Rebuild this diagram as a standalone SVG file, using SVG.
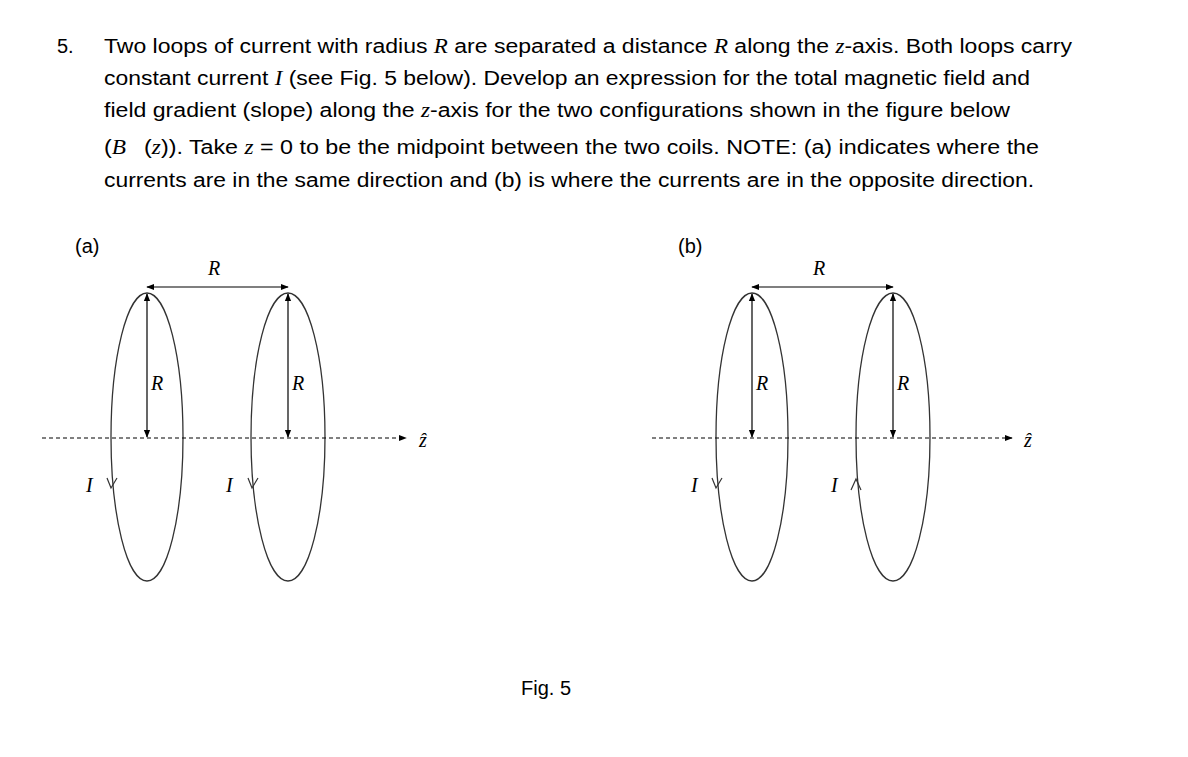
<svg xmlns="http://www.w3.org/2000/svg" width="1188" height="757" viewBox="0 0 1188 757">
<defs>
<marker id="ah" viewBox="0 0 10 10" refX="9" refY="5" markerWidth="8" markerHeight="8" markerUnits="userSpaceOnUse" orient="auto-start-reverse"><path d="M0,1 L10,5 L0,9 z" fill="#000"/></marker>
</defs>
<style>
.t{font-family:"Liberation Sans",Arial,sans-serif;font-size:20px;fill:#000}
.m{font-family:"Liberation Serif","Times New Roman",serif;font-style:italic}
.lab{font-family:"Liberation Serif","Times New Roman",serif;font-style:italic;font-size:20px;fill:#000}
.loop{fill:none;stroke:#333;stroke-width:1.3}
.ax{stroke:#000;stroke-width:1;stroke-dasharray:4,3;fill:none}
.ar{stroke:#000;stroke-width:1.2;fill:none}
.ch{stroke:#333;stroke-width:1.2;fill:none}
</style>
<rect width="1188" height="757" fill="#fff"/>
<g id="text">
<text class="t" x="57" y="53">5.</text>
<text class="t" x="104" y="53" textLength="968" lengthAdjust="spacingAndGlyphs">Two loops of current with radius <tspan class="m">R</tspan> are separated a distance <tspan class="m">R</tspan> along the <tspan class="m">z</tspan>-axis.  Both loops carry</text>
<text class="t" x="104" y="85" textLength="926" lengthAdjust="spacingAndGlyphs">constant current <tspan class="m">I</tspan> (see Fig. 5 below).  Develop an expression for the total magnetic field and</text>
<text class="t" x="104" y="117" textLength="906" lengthAdjust="spacingAndGlyphs">field gradient (slope) along the <tspan class="m">z</tspan>-axis for the two configurations shown in the figure below</text>
<text class="t" x="104" y="154" textLength="935" lengthAdjust="spacingAndGlyphs">(<tspan class="m">B⃗</tspan>(<tspan class="m">z</tspan>)).  Take <tspan class="m">z</tspan> = 0 to be the midpoint between the two coils.  NOTE: (a) indicates where the</text>
<text class="t" x="104" y="187" textLength="930" lengthAdjust="spacingAndGlyphs">currents are in the same direction and (b) is where the currents are in the opposite direction.</text>
<text class="t" x="521" y="695">Fig. 5</text>
</g>
<g id="panel-a">
<text class="t" x="75" y="253">(a)</text>
<ellipse class="loop" cx="147" cy="437" rx="36" ry="144"/>
<ellipse class="loop" cx="288" cy="437" rx="37" ry="144"/>
<text class="lab" x="208" y="275">R</text>
<text class="lab" x="151" y="390">R</text>
<text class="lab" x="292" y="390">R</text>
<text class="lab" x="86" y="492">I</text>
<text class="lab" x="226" y="492">I</text>
<text class="lab" x="419" y="447">ẑ</text>
<path class="ch" d="M107,478 L111,488 L117,478"/>
<path class="ch" d="M248,478 L252,488 L258,478"/>
</g>
<g id="panel-b">
<text class="t" x="678" y="253">(b)</text>
<ellipse class="loop" cx="752" cy="437" rx="36" ry="144"/>
<ellipse class="loop" cx="893" cy="437" rx="37" ry="144"/>
<text class="lab" x="813" y="275">R</text>
<text class="lab" x="756" y="390">R</text>
<text class="lab" x="897" y="390">R</text>
<text class="lab" x="691" y="492">I</text>
<text class="lab" x="831" y="492">I</text>
<text class="lab" x="1024" y="447">ẑ</text>
<path class="ch" d="M712,478 L716,488 L722,478"/>
<path class="ch" d="M851,490 L856,479 L861,490"/>
</g>
<g id="connectors">
<line class="ax" x1="42" y1="438" x2="406" y2="438" marker-end="url(#ah)"/>
<line class="ar" x1="147" y1="287" x2="288" y2="287" marker-start="url(#ah)" marker-end="url(#ah)"/>
<line class="ar" x1="147" y1="294" x2="147" y2="437" marker-start="url(#ah)" marker-end="url(#ah)"/>
<line class="ar" x1="288" y1="294" x2="288" y2="437" marker-start="url(#ah)" marker-end="url(#ah)"/>
<line class="ax" x1="652" y1="438" x2="1012" y2="438" marker-end="url(#ah)"/>
<line class="ar" x1="752" y1="287" x2="893" y2="287" marker-start="url(#ah)" marker-end="url(#ah)"/>
<line class="ar" x1="752" y1="294" x2="752" y2="437" marker-start="url(#ah)" marker-end="url(#ah)"/>
<line class="ar" x1="893" y1="294" x2="893" y2="437" marker-start="url(#ah)" marker-end="url(#ah)"/>
</g>
</svg>
